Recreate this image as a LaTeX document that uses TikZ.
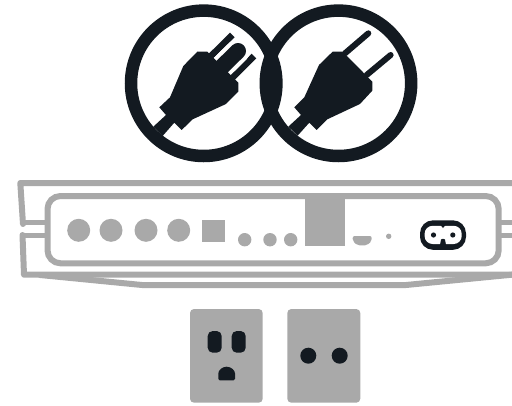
\documentclass[tikz,border=0pt]{standalone}
\definecolor{ink}{HTML}{131A21}
\definecolor{gr}{HTML}{A9A9A9}
\tikzset{
  ring/.style={draw=ink,line width=12.5pt},
  rackline/.style={draw=gr,line width=6pt,line join=round,line cap=round},
  earline/.style={draw=gr,line width=5pt},
}
\begin{document}
\begin{tikzpicture}[x=1pt,y=-1pt]
\useasboundingbox (0,0) rectangle (512,405);
% rings
\draw[ring] (203.7,83.3) circle (72.7);
\draw[ring] (338.5,83.3) circle (72.7);
% left plug pins
\draw[ink,line width=6.5pt] (208,59)--(232.3,35);
\draw[ink,line width=6.5pt] (228,82)--(254,56);
\draw[white,line width=24pt,line cap=round] (222,66.7)--(238,51);
\draw[ink,line width=16pt,line cap=round] (222,66.7)--(238,51);
% left plug body (zoom coordinates)
\begin{scope}[shift={(120,0)},x=0.3333pt,y=-0.3333pt]
\fill[ink] (118,322)--(150,292)--(190,198)--(232,155)--(262,155)--(355,248)--(355,275)--(318,312)--(218,358)--(185,390)--(163,368)--(128,408)--(100,380)--(138,345)--cycle;
\end{scope}
% right plug
\begin{scope}[shift={(120,0)},x=0.3333pt,y=-0.3333pt]
\fill[ink] (523,322)--(553,292)--(597,195)--(638,155)--(668,155)--(757,245)--(757,272)--(720,312)--(622,358)--(590,390)--(568,368)--(533,407)--(505,380)--(543,345)--cycle;
\draw[ink,line width=6pt,line cap=round] (675,160)--(745,100);
\draw[ink,line width=6pt,line cap=round] (740,225)--(812,165);
\end{scope}
% rack
\draw[rackline] (512,183)--(20.3,183)--(23,224);
\draw[rackline] (22.5,235)--(24,274.7)--(512,274.7);
\draw[rackline] (40,275)--(142,285)--(406,285)--(512,274.7);
\draw[earline] (23,222.5)--(47,222.5);
\draw[earline] (23,235.5)--(47,235.5);
\draw[earline] (498,222.5)--(512,222.5);
\draw[earline] (498,235.5)--(512,235.5);
\fill[white] (47.5,196) rectangle (498.7,263.3);
\draw[draw=gr,line width=6pt,rounded corners=13pt] (47.5,196) rectangle (498.7,263.3);
% front panel
\fill[gr] (78.7,230.3) circle (11.5) (111,230.3) circle (11.5) (146,230.3) circle (11.5) (178.7,230.3) circle (11.5);
\fill[gr] (201.7,220) rectangle (225,241.7);
\fill[gr] (244.7,239.7) circle (6.7) (270,239.7) circle (6.7) (290.7,239.7) circle (6.7);
\fill[gr] (305,196) rectangle (345,246);
\fill[gr,rounded corners=2pt] (352.7,236) -- (371.7,236) -- (371.7,241) -- (367,245.3) -- (357.4,245.3) -- (352.7,241) -- cycle;
\fill[gr] (388.7,236.3) circle (2.7);
% inlet
\fill[ink,rounded corners=13pt] (420,220.3) rectangle (466,249.8);
\fill[white,rounded corners=8pt] (424.6,225.8) rectangle (461.7,244);
\fill[ink] (440,245)--(441,239.5)--(443,238.8)--(445,239.5)--(446,245)--cycle;
\fill[ink] (440.5,225)--(443,228)--(445.5,225)--cycle;
\fill[ink] (433.5,235) circle (2.6) (452.8,235) circle (2.6);
% sockets
\fill[gr,rounded corners=4pt] (190,309) rectangle (262.7,402.7);
\fill[gr,rounded corners=4pt] (287.3,309) rectangle (360.3,402.7);
\fill[ink,rounded corners=5pt] (207.7,331) rectangle (221.7,352.7);
\fill[ink,rounded corners=5pt] (231.7,331) rectangle (245.7,352.7);
\fill[ink,rounded corners=1.5pt] (218.3,380.3) -- (218.3,375) arc[start angle=180,end angle=360,x radius=8.35,y radius=8.3] -- (235,380.3) -- cycle;
\fill[ink] (308.3,355.7) circle (8) (339.7,355.7) circle (8);
\end{tikzpicture}
\end{document}
